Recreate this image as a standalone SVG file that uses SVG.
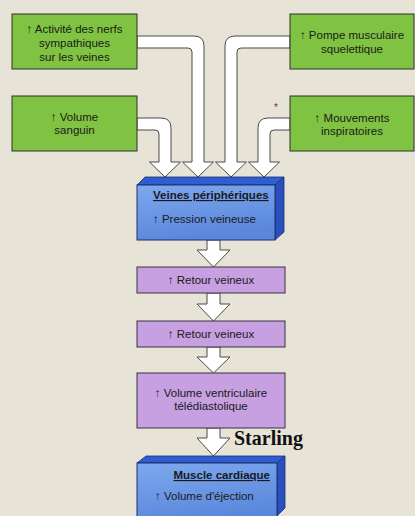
<svg xmlns="http://www.w3.org/2000/svg" width="415" height="516" viewBox="0 0 415 516">
<defs>
<linearGradient id="bf" x1="0" y1="0" x2="0.3" y2="1">
<stop offset="0" stop-color="#7ea8ee"/>
<stop offset="1" stop-color="#5a87dc"/>
</linearGradient>
<style>
.green{fill:#80c342;stroke:#2e2e2e;stroke-width:1}
.purple{fill:#c6a0e0;stroke:#3a3040;stroke-width:1}
.front{fill:url(#bf);stroke:#1d2f6a;stroke-width:1}
.top{fill:#2f5dd2;stroke:#1d2f6a;stroke-width:0.8}
.side{fill:#2a4fbf;stroke:#1d2f6a;stroke-width:0.8}
.arr{fill:#ffffff;stroke:#4a4a4a;stroke-width:1;stroke-linejoin:round}
text{font-family:"Liberation Sans",Arial,sans-serif;font-size:11.5px;fill:#1a1a1a}
.c{text-anchor:middle}
.b{font-weight:bold;text-decoration:underline}
</style>
</defs>
<rect width="415" height="516" fill="#e7e4d7"/>

<g id="connectors">
<path class="arr" d="M137,36 H194 Q204,36 204,46 V162 H213.5 L198,177 L182.5,162 H192 V52 Q192,48 188,48 H137 Z"/>
<path class="arr" d="M290,36 H235 Q225,36 225,46 V162 H215.5 L231,177 L246.5,162 H237 V52 Q237,48 241,48 H290 Z"/>
<path class="arr" d="M137,118 H161 Q171,118 171,128 V162 H180.5 L165,177 L149.5,162 H159 V134 Q159,130 155,130 H137 Z"/>
<path class="arr" d="M290,118 H268 Q258,118 258,128 V162 H248.5 L264,177 L279.5,162 H270 V134 Q270,130 274,130 H290 Z"/>
<path class="arr" d="M207,240 V250 H197 L213.5,267 L230,250 H220 V240 Z"/>
<path class="arr" d="M207,293 V304 H197 L213.5,321 L230,304 H220 V293 Z"/>
<path class="arr" d="M207,347 V357 H197 L213.5,373 L230,357 H220 V347 Z"/>
<path class="arr" d="M207,428 V438 H197 L213.5,456 L230,438 H220 V428 Z"/>
<text x="234" y="445" style="font-family:'Liberation Serif','Times New Roman',serif;font-size:20px;font-weight:bold;fill:#111">Starling</text>
</g>

<g id="n1">
<rect class="green" x="12" y="14" width="125" height="55"/>
<text class="c" x="74.5" y="32.5">↑ Activité des nerfs</text>
<text class="c" x="74.5" y="46.5">sympathiques</text>
<text class="c" x="74.5" y="60.5">sur les veines</text>
</g>

<g id="n2">
<rect class="green" x="290" y="14" width="124" height="55"/>
<text class="c" x="352" y="39">↑ Pompe musculaire</text>
<text class="c" x="352" y="53">squelettique</text>
</g>

<g id="n3">
<rect class="green" x="12" y="96" width="125" height="55"/>
<text class="c" x="74.5" y="121">↑ Volume</text>
<text class="c" x="74.5" y="134">sanguin</text>
</g>

<g id="n4">
<rect class="green" x="290" y="96" width="124" height="55"/>
<text class="c" x="352" y="122">↑ Mouvements</text>
<text class="c" x="352" y="135">inspiratoires</text>
<text x="274" y="111" style="font-size:10px;fill:#8b2a2a">*</text>
</g>

<g id="n5">
<polygon class="top" points="137,185 145,177 284,177 275,185"/>
<polygon class="side" points="275,185 284,177 284,232 275,240"/>
<rect class="front" x="137" y="185" width="138" height="55"/>
<text class="b" x="153" y="199">Veines périphériques</text>
<text x="153" y="223">↑ Pression veineuse</text>
</g>

<g id="n6">
<rect class="purple" x="137" y="267" width="148" height="26"/>
<text class="c" x="211" y="284">↑ Retour veineux</text>
</g>

<g id="n7">
<rect class="purple" x="137" y="321" width="148" height="26"/>
<text class="c" x="211" y="338">↑ Retour veineux</text>
</g>

<g id="n8">
<rect class="purple" x="137" y="373" width="148" height="55"/>
<text class="c" x="211" y="397">↑ Volume ventriculaire</text>
<text class="c" x="211" y="410">télédiastolique</text>
</g>

<g id="n9">
<polygon class="top" points="137,463 146,456 285,456 277,463"/>
<polygon class="side" points="277,463 285,456 285,508 277,516"/>
<rect class="front" x="137" y="463" width="140" height="60"/>
<text class="b" x="270" y="479" text-anchor="end">Muscle cardiaque</text>
<text x="155" y="500">↑ Volume d'éjection</text>
</g>
</svg>
